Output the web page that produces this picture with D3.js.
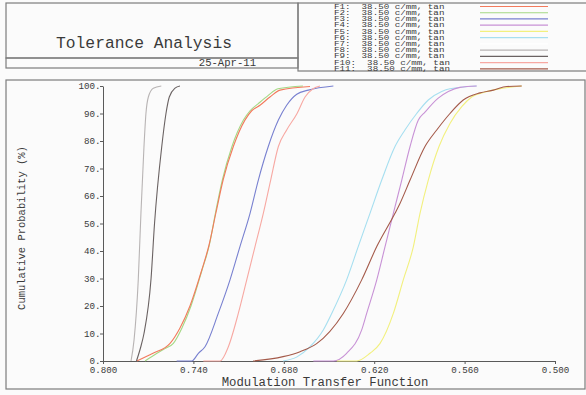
<!DOCTYPE html>
<html>
<head>
<meta charset="utf-8">
<script src="https://cdn.jsdelivr.net/npm/d3@7"></script>
<style>
  body { margin: 0; background: #fbfbfb; }
  svg { display: block; }
  text { font-family: "Courier New", Courier, "Liberation Mono", monospace; fill: #3a3a3a; }
</style>
</head>
<body>
<div id="chart"></div>
<script>
const title = "Tolerance Analysis";
const dateLabel = "25-Apr-11";
const fieldNames = ["F1", "F2", "F3", "F4", "F5", "F6", "F7", "F8", "F9", "F10", "F11"];
const fieldDesc = "38.50 c/mm, tan";
const colors = ["#f27a5c", "#a4d884", "#7880d0", "#c892d6", "#f2f07e", "#a6dff0",
  "#ffffff", "#b8b4b4", "#6a6262", "#f7a8a2", "#a45a4a"];
const xTicks = [0.800, 0.740, 0.680, 0.620, 0.560, 0.500];
const yTicks = [0, 10, 20, 30, 40, 50, 60, 70, 80, 90, 100];

// cumulative probability curves, MTF value vs percent
const mtfF1 = [0.7776, 0.7668, 0.7555, 0.7489, 0.7423, 0.7345, 0.7297, 0.7250, 0.7202, 0.7135, 0.7058, 0.7013, 0.6958, 0.6892, 0.6825, 0.6626];
const probF1 = [0, 2.8, 6.4, 12, 20, 33, 42, 54, 66, 78, 87.6, 91, 93, 96, 98.5, 99.8];
const mtfF2 = [0.7721, 0.7642, 0.7589, 0.7533, 0.7476, 0.7416, 0.7343, 0.7295, 0.7253, 0.7207, 0.7144, 0.7068, 0.7024, 0.6971, 0.6905, 0.6839, 0.6673];
const probF2 = [0, 2.8, 4.5, 6.4, 12, 20, 33, 42, 54, 66, 78, 87.6, 91, 93.5, 96.5, 99, 100];
const mtfF3 = [0.7511, 0.7411, 0.7367, 0.7323, 0.7235, 0.7157, 0.7091, 0.7024, 0.6969, 0.6903, 0.6836, 0.6781, 0.6714, 0.6637, 0.6471];
const probF3 = [0, 0, 2.8, 5.2, 17.3, 29.5, 41.6, 53.7, 65.8, 78, 87.6, 93, 97, 98.5, 100];
const mtfF4 = [0.6604, 0.6471, 0.6383, 0.6283, 0.6250, 0.6183, 0.6128, 0.6073, 0.6017, 0.5962, 0.5907, 0.5863, 0.5777, 0.5708, 0.5631, 0.5520];
const probF4 = [0, 0, 2.8, 11.3, 17.3, 29.5, 41.6, 53.7, 65.8, 78, 87.6, 90.5, 95.5, 98, 99.5, 100];
const mtfF5 = [0.6449, 0.6316, 0.6228, 0.6162, 0.6073, 0.6007, 0.5940, 0.5896, 0.5841, 0.5770, 0.5697, 0.5619, 0.5553, 0.5465, 0.5365, 0.5221];
const probF5 = [0, 0, 2.8, 6.3, 17.3, 29.5, 41.6, 53.7, 65.8, 78, 86.4, 92.5, 96, 97.8, 99, 100];
const mtfF6 = [0.6805, 0.6712, 0.6626, 0.6538, 0.6482, 0.6383, 0.6306, 0.6228, 0.6150, 0.6062, 0.5996, 0.5918, 0.5841, 0.5752, 0.5697, 0.5520];
const probF6 = [0, 1.5, 5.2, 11.3, 17.3, 29.5, 41.6, 53.7, 65.8, 78, 84, 90, 94.9, 98, 99, 100];
const mtfF7 = [];
const probF7 = [];
const mtfF8 = [0.7814, 0.7794, 0.7766, 0.7748, 0.7728, 0.7715, 0.7699, 0.7666, 0.7613];
const probF8 = [0, 7.6, 29.5, 54, 78, 90, 96, 99.2, 100];
const mtfF9 = [0.7778, 0.7750, 0.7728, 0.7681, 0.7658, 0.7610, 0.7582, 0.7560, 0.7522, 0.7489];
const probF9 = [0, 5, 10, 30, 50, 78, 90, 96, 99.2, 100];
const mtfF10 = [0.7334, 0.7223, 0.7168, 0.7102, 0.7046, 0.6991, 0.6936, 0.6887, 0.6836, 0.6781, 0.6712, 0.6659, 0.6606, 0.6560];
const probF10 = [0, 0, 5.2, 17.3, 29.5, 41.6, 53.7, 65.8, 78, 84, 90, 96, 99, 100];
const mtfF11 = [0.7004, 0.6805, 0.6692, 0.6582, 0.6405, 0.6283, 0.6183, 0.6062, 0.6029, 0.5962, 0.5863, 0.5785, 0.5697, 0.5609, 0.5498, 0.5409, 0.5320, 0.5221];
const probF11 = [0, 1.6, 3.4, 6.3, 17.3, 29.5, 41.6, 53.7, 57.3, 65.8, 78, 84, 90, 94.9, 97.5, 98.5, 99.8, 100];

const mtfs = [mtfF1, mtfF2, mtfF3, mtfF4, mtfF5, mtfF6, mtfF7, mtfF8, mtfF9, mtfF10, mtfF11];
const probs = [probF1, probF2, probF3, probF4, probF5, probF6, probF7, probF8, probF9, probF10, probF11];

const width = 586, height = 395;
const frameColor = "#7c7c7c";

const svg = d3.select("#chart").append("svg")
  .attr("width", width)
  .attr("height", height);

// header boxes
const header = svg.append("g")
  .attr("fill", "none")
  .attr("stroke", frameColor)
  .attr("stroke-width", 1.2);
header.append("rect").attr("x", 6).attr("y", 3).attr("width", 292).attr("height", 55);
header.append("rect").attr("x", 6).attr("y", 58).attr("width", 292).attr("height", 10);
header.append("rect").attr("x", 298).attr("y", 3).attr("width", 300).attr("height", 68);

svg.append("text")
  .attr("x", 144).attr("y", 48)
  .attr("text-anchor", "middle")
  .style("font-size", "16.3px")
  .text(title);

svg.append("text")
  .attr("x", 256).attr("y", 65.5)
  .attr("text-anchor", "end")
  .style("font-size", "10.6px")
  .text(dateLabel);

// legend, text squashed vertically like the original plot file
const legend = svg.append("g")
  .selectAll("g")
  .data(fieldNames)
  .join("g")
  .attr("transform", (d, i) => `translate(0, ${6 + i * 6.23})`);

legend.append("text")
  .attr("transform", "translate(334, 2.6) scale(1, 0.78)")
  .style("font-size", "9.2px")
  .attr("xml:space", "preserve")
  .text(d => `${d}:  ${fieldDesc}`);

legend.append("line")
  .attr("x1", 480).attr("x2", 548)
  .attr("y1", 0.5).attr("y2", 0.5)
  .attr("stroke", (d, i) => colors[i])
  .attr("stroke-width", 1.2);

// plot frame
svg.append("rect")
  .attr("x", 6).attr("y", 80)
  .attr("width", 579).attr("height", 309)
  .attr("fill", "none")
  .attr("stroke", frameColor)
  .attr("stroke-width", 1.2);

const x = d3.scaleLinear().domain([0.8, 0.5]).range([103, 555]);
const y = d3.scaleLinear().domain([0, 100]).range([361, 86]);

const xAxis = svg.append("g")
  .attr("transform", `translate(0, ${y(0)})`)
  .call(d3.axisBottom(x).tickValues(xTicks).tickFormat(d3.format(".3f")).tickSize(3).tickSizeOuter(0));

const yAxis = svg.append("g")
  .attr("transform", `translate(${x(0.8)}, 0)`)
  .call(d3.axisLeft(y).tickValues(yTicks).tickFormat(d => d + ".").tickSize(3).tickSizeOuter(0));

[xAxis, yAxis].forEach(axis => {
  axis.select(".domain").attr("stroke", "#5a5a5a");
  axis.selectAll(".tick line").attr("stroke", "#5a5a5a");
  axis.selectAll(".tick text")
    .style("font-size", "9.2px")
    .style("font-family", "\"Courier New\", Courier, \"Liberation Mono\", monospace")
    .attr("fill", "#3a3a3a");
});
xAxis.selectAll(".tick text").attr("y", 5).attr("dy", "0.71em");
yAxis.selectAll(".tick text").attr("x", -2.5);

svg.append("text")
  .attr("x", 325).attr("y", 385.5)
  .attr("text-anchor", "middle")
  .style("font-size", "12.3px")
  .text("Modulation Transfer Function");

svg.append("text")
  .attr("transform", "translate(25, 228) rotate(-90)")
  .attr("text-anchor", "middle")
  .style("font-size", "10.5px")
  .text("Cumulative Probability (%)");

// curves
const line = d3.line()
  .x(d => x(d[0]))
  .y(d => y(d[1]))
  .curve(d3.curveMonotoneX);

const drawOrder = [1, 0, 7, 8, 2, 9, 5, 3, 4, 10];
svg.append("g")
  .selectAll("path")
  .data(drawOrder)
  .join("path")
  .attr("fill", "none")
  .attr("stroke", i => colors[i])
  .attr("stroke-width", 1.1)
  .attr("d", i => line(d3.zip(mtfs[i], probs[i])));
</script>
</body>
</html>
